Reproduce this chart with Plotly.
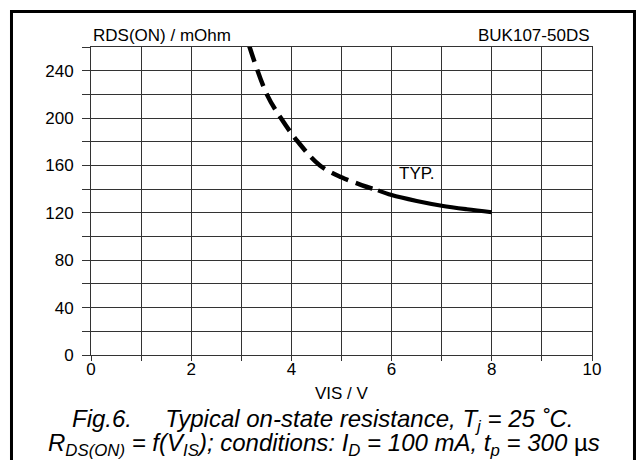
import plotly.graph_objects as go

# Data
dashed_x = [3.15, 3.51, 3.79, 4.13, 4.57, 5.0, 5.4, 5.73]
dashed_y = [262, 220, 200, 180, 160, 150, 143.5, 139]
solid_x = [5.73, 6.0, 6.5, 7.0, 7.5, 8.0]
solid_y = [139, 135, 130, 126, 123, 120.5]

x_ticks = [0, 2, 4, 6, 8, 10]
y_ticks = [0, 40, 80, 120, 160, 200, 240]

FONT = "Liberation Sans, Arial, sans-serif"
GRID = "#333333"

fig = go.Figure()
fig.add_trace(go.Scatter(x=dashed_x, y=dashed_y, mode="lines",
                         line=dict(color="black", width=4.5, dash="18px,8px", shape="spline"),
                         hoverinfo="skip", showlegend=False))
fig.add_trace(go.Scatter(x=solid_x, y=solid_y, mode="lines",
                         line=dict(color="black", width=4.2, shape="spline"),
                         hoverinfo="skip", showlegend=False))

fig.update_layout(
    width=636, height=460,
    margin=dict(l=91, r=44, t=47, b=105, pad=0),
    paper_bgcolor="white", plot_bgcolor="white",
    font=dict(family=FONT, size=17, color="black"),
    showlegend=False,
    xaxis=dict(range=[0, 10], tickvals=x_ticks, ticktext=[str(v) for v in x_ticks],
               showgrid=True, gridcolor=GRID, gridwidth=1,
               ticks="outside", ticklen=5, tickcolor=GRID, tickwidth=1,
               showline=True, linecolor=GRID, linewidth=1, mirror=True,
               zeroline=False, ticklabelstandoff=-6,
               minor=dict(dtick=1, tick0=0, showgrid=True, gridcolor=GRID, gridwidth=1,
                          ticks="outside", ticklen=5, tickcolor=GRID)),
    yaxis=dict(range=[0, 260], tickvals=y_ticks, ticktext=[str(v) for v in y_ticks],
               showgrid=True, gridcolor=GRID, gridwidth=1,
               ticks="outside", ticklen=8, tickcolor=GRID, tickwidth=1,
               showline=True, linecolor=GRID, linewidth=1, mirror=True,
               zeroline=False, ticklabelstandoff=5,
               minor=dict(dtick=20, tick0=0, showgrid=True, gridcolor=GRID, gridwidth=1,
                          ticks="outside", ticklen=8, tickcolor=GRID)),
)

ann = [
    dict(text="RDS(ON) / mOhm", x=0, y=1.036, xref="paper", yref="paper",
         xanchor="left", yanchor="middle", showarrow=False, font=dict(size=17)),
    dict(text="BUK107-50DS", x=1, y=1.036, xref="paper", yref="paper",
         xanchor="right", yanchor="middle", showarrow=False, font=dict(size=17)),
    dict(text="TYP.", x=6.1, y=153, xref="x", yref="y",
         xanchor="left", yanchor="middle", showarrow=False, font=dict(size=17)),
    dict(text="VIS / V", x=0.5, y=-0.124, xref="paper", yref="paper",
         xanchor="center", yanchor="middle", showarrow=False, font=dict(size=17)),
    dict(text="<i>Fig.6.\u00a0\u00a0\u00a0\u00a0\u00a0Typical on-state resistance, T<sub>j</sub> = 25 \u02daC.</i>",
         x=0.463, y=-0.212, xref="paper", yref="paper",
         xanchor="center", yanchor="middle", showarrow=False, font=dict(size=24)),
    dict(text="<i>R<sub>DS(ON)</sub> = f(V<sub>IS</sub>); conditions: I<sub>D</sub> = 100 mA, t<sub>p</sub> = 300 </i>\u00b5<i>s</i>",
         x=0.465, y=-0.290, xref="paper", yref="paper",
         xanchor="center", yanchor="middle", showarrow=False, font=dict(size=24)),
]
fig.update_layout(annotations=ann)

fig.add_shape(type="rect", xref="paper", yref="paper",
              x0=-0.1587, x1=1.0848, y0=-0.3506, y1=1.1153,
              line=dict(color="black", width=3), fillcolor="rgba(0,0,0,0)", layer="above")

fig.write_html("out.html")
